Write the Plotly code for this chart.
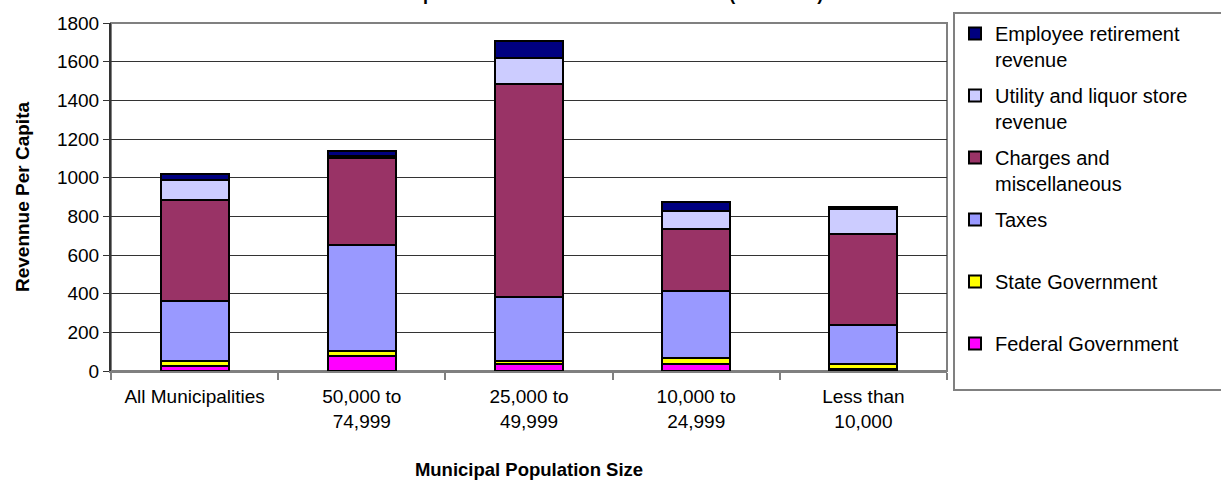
import plotly.graph_objects as go

# Municipal revenue per capita, by population size and by source
categories = [
    "All Municipalities",
    "50,000 to<br>74,999",
    "25,000 to<br>49,999",
    "10,000 to<br>24,999",
    "Less than<br>10,000",
]

federal_government = [28, 79, 38, 35, 12]
state_government = [24, 26, 12, 34, 24]
taxes = [308, 545, 332, 344, 200]
charges_misc = [527, 454, 1105, 324, 471]
utility_liquor = [103, 8, 134, 93, 133]
employee_retirement = [31, 26, 84, 42, 10]

series = [
    ("Federal Government<br> ", federal_government, "#FF00FF"),
    ("State Government<br> ", state_government, "#FFFF00"),
    ("Taxes<br> ", taxes, "#9999FF"),
    ("Charges and<br>miscellaneous", charges_misc, "#993366"),
    ("Utility and liquor store&nbsp;&nbsp;&nbsp;&nbsp;&nbsp;&nbsp;<br>revenue",
     utility_liquor, "#CCCCFF"),
    ("Employee retirement<br>revenue", employee_retirement, "#000080"),
]

FONT = "Arial, Liberation Sans, sans-serif"

fig = go.Figure()
for i, (name, values, color) in enumerate(series):
    fig.add_trace(
        go.Bar(
            x=categories,
            y=values,
            name=name,
            legendgroup=f"g{i}",
            legendrank=len(series) - i,
            marker=dict(color=color, line=dict(color="#000000", width=2)),
        )
    )

fig.update_layout(
    width=1221,
    height=485,
    barmode="stack",
    bargap=0.593,
    paper_bgcolor="#FFFFFF",
    plot_bgcolor="#FFFFFF",
    margin=dict(l=111, r=274, t=23, b=114, autoexpand=False),
    font=dict(family=FONT, size=18, color="#000000"),
    title=dict(
        text="<b>Municipal Revenue Sources and Amounts (in Dollars)</b>",
        font=dict(family=FONT, size=18, color="#000000"),
        x=0.487,
        xanchor="center",
        yref="container",
        y=1,
        yanchor="bottom",
        pad=dict(b=0, t=0),
    ),
    showlegend=True,
    legend=dict(
        traceorder="grouped",
        tracegroupgap=7,
        valign="top",
        font=dict(family=FONT, size=20, color="#000000"),
        bgcolor="#FFFFFF",
        bordercolor="#808080",
        borderwidth=2,
        x=953 / 1221,
        xref="container",
        xanchor="left",
        y=1 - 12 / 485,
        yref="container",
        yanchor="top",
        maxheight=470,
    ),
    shapes=[
        dict(
            type="rect",
            xref="paper",
            yref="paper",
            x0=0,
            x1=1,
            y0=0,
            y1=1,
            line=dict(color="#808080", width=2),
            layer="below",
        )
    ],
)

fig.update_yaxes(
    range=[0, 1800],
    dtick=200,
    tickformat="d",
    automargin=False,
    showgrid=True,
    gridcolor="#333333",
    gridwidth=1,
    showline=True,
    linecolor="#333333",
    linewidth=2,
    ticks="outside",
    ticklen=6,
    tickcolor="#333333",
    tickwidth=1,
    tickfont=dict(family=FONT, size=19),
    zeroline=False,
    title=dict(
        text="<b>Revennue Per Capita</b>",
        font=dict(family=FONT, size=19),
        standoff=22,
    ),
)

fig.update_xaxes(
    automargin=False,
    showline=True,
    linecolor="#808080",
    linewidth=2,
    ticks="outside",
    tickson="boundaries",
    ticklen=7,
    tickcolor="#808080",
    tickwidth=2,
    tickfont=dict(family=FONT, size=19),
    ticklabelstandoff=7,
    title=dict(
        text="<b>Municipal Population Size</b>",
        font=dict(family=FONT, size=18.5),
        standoff=33,
    ),
)

fig.write_html("out.html")
